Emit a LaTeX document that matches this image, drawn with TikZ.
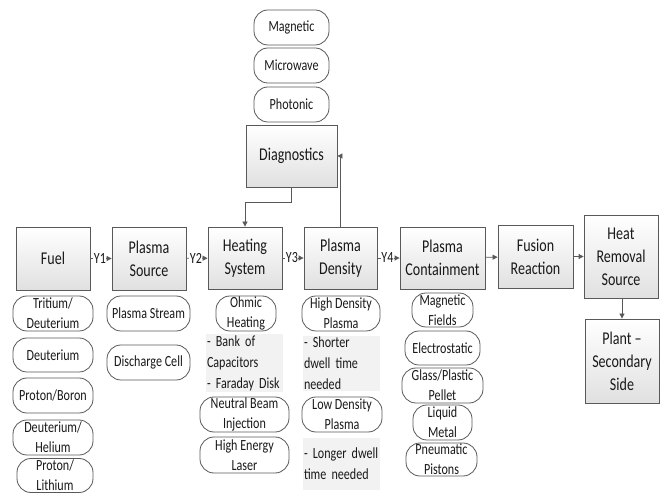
\documentclass[tikz,border=0pt]{standalone}
\usepackage{fontspec}
\setmainfont{Carlito}[FakeStretch=0.78]
\usetikzlibrary{arrows.meta,shadows}
\definecolor{edge}{HTML}{595959}
\definecolor{txtbg}{HTML}{F2F2F2}
\newcommand\myfixsp{\spaceskip=0.18em\relax}
\tikzset{
 mainbox/.style={draw=edge, line width=0.8pt, top color=white, bottom color=black!12,
   drop shadow={opacity=0.25,shadow xshift=1.2pt,shadow yshift=-1.2pt},
   inner sep=0pt, align=center, font=\fontsize{18}{23}\selectfont, text=black!90},
 pill/.style={draw=edge, line width=0.8pt, fill=white, rounded corners=14pt, inner sep=0pt,
   align=center, font=\fontsize{15.5}{20}\selectfont, text=black!90},
 notebox/.style={fill=txtbg, inner sep=1pt, align=left, text width=75pt,
   font=\fontsize{15.5}{21}\selectfont\myfixsp, text=black!90},
 conn/.style={draw=edge, line width=0.8pt, -{Triangle[length=5pt,width=5pt]}},
 ylab/.style={fill=white, inner sep=0.5pt, pos=0.45, font=\fontsize{15.5}{18}\selectfont, text=black!90},
}
\begin{document}
\begin{tikzpicture}[x=1pt,y=-1pt]
\useasboundingbox[fill=white] (0,0) rectangle (662,494);
% main row
\node[mainbox, minimum width=74pt, minimum height=63pt] (fuel) at (53,258.5) {Fuel};
\node[mainbox, minimum width=74pt, minimum height=63pt] (psrc) at (149,258.5) {Plasma\\Source};
\node[mainbox, minimum width=74pt, minimum height=62pt] (heat) at (245,258) {Heating\\System};
\node[mainbox, minimum width=73pt, minimum height=62pt] (pden) at (340.5,258) {Plasma\\Density};
\node[mainbox, minimum width=85pt, minimum height=62pt] (pcont) at (442.5,258) {Plasma\\Containment};
\node[mainbox, minimum width=75pt, minimum height=63pt] (fus) at (535.5,256.5) {Fusion\\Reaction};
\node[mainbox, minimum width=74pt, minimum height=83pt] (hrem) at (621,256.5) {Heat\\Removal\\Source};
\node[mainbox, minimum width=74pt, minimum height=84pt] (plant) at (622,361) {Plant --\\Secondary\\Side};
\node[mainbox, minimum width=91pt, minimum height=62pt] (diag) at (291.5,156) {Diagnostics};
% diagnostics pills
\node[pill, minimum width=75pt, minimum height=35pt] (mag) at (291.5,27.5) {Magnetic};
\node[pill, minimum width=75pt, minimum height=35pt] (micro) at (291.5,65.5) {Microwave};
\node[pill, minimum width=75pt, minimum height=35pt] (phot) at (291.5,104.5) {Photonic};
% fuel column
\node[pill, minimum width=80pt, minimum height=35pt] (trit) at (53,313.5) {Tritium/\\Deuterium};
\node[pill, minimum width=80pt, minimum height=34pt] (deut) at (53,355) {Deuterium};
\node[pill, minimum width=80pt, minimum height=35pt] (pb) at (53,395.5) {Proton/Boron};
\node[pill, minimum width=80pt, minimum height=35pt] (dh) at (53,437.5) {Deuterium/\\Helium};
\node[pill, minimum width=76pt, minimum height=34pt] (pl) at (55,475.5) {Proton/\\Lithium};
% plasma source column
\node[pill, minimum width=83pt, minimum height=35pt] (pstream) at (148.5,313.5) {Plasma Stream};
\node[pill, minimum width=83pt, minimum height=35pt] (dcell) at (148.5,362.5) {Discharge Cell};
% heating column
\node[pill, minimum width=60pt, minimum height=35pt] (ohm) at (246,313.5) {Ohmic\\Heating};
\node[notebox, minimum height=50pt] (bank) at (244.5,363) {- Bank of\\Capacitors\\- Faraday Disk};
\node[pill, minimum width=89pt, minimum height=35pt] (nbi) at (244.5,414.5) {Neutral Beam\\Injection};
\node[pill, minimum width=89pt, minimum height=36pt] (hel) at (244.5,455) {High Energy\\Laser};
% plasma density column
\node[pill, minimum width=78pt, minimum height=35pt] (hdp) at (341,313.5) {High Density\\Plasma};
\node[notebox, minimum height=51pt] (short) at (341.5,363.5) {- Shorter\\dwell time\\needed};
\node[pill, minimum width=80pt, minimum height=35pt] (ldp) at (342,414.5) {Low Density\\Plasma};
\node[notebox, minimum height=52pt] (long) at (341.5,464) {- Longer dwell\\time needed};
% containment column
\node[pill, minimum width=61pt, minimum height=34pt] (mf) at (442.5,310) {Magnetic\\Fields};
\node[pill, minimum width=75pt, minimum height=34pt] (es) at (442.5,348) {Electrostatic};
\node[pill, minimum width=81pt, minimum height=35pt] (gp) at (442.5,385.5) {Glass/Plastic\\Pellet};
\node[pill, minimum width=59pt, minimum height=35pt] (lm) at (442.5,422.5) {Liquid\\Metal};
\node[pill, minimum width=71pt, minimum height=33pt] (pp) at (441.5,459.5) {Pneumatic\\Pistons};
% connectors
\draw[conn] (fuel) -- node[ylab]{Y1} (psrc);
\draw[conn] (psrc) -- node[ylab]{Y2} (heat);
\draw[conn] (heat) -- node[ylab]{Y3} (pden);
\draw[conn] (pden) -- node[ylab]{Y4} (pcont);
\draw[conn] (pcont) -- (fus);
\draw[conn] (fus) -- (fus -| hrem.west);
\draw[conn] (hrem.south -| plant.north) -- (plant.north);
\draw[conn] (diag.south) -- ++(0,15) -| (heat.north);
\draw[conn] (pden.north) |- (diag.east);
\end{tikzpicture}
\end{document}
